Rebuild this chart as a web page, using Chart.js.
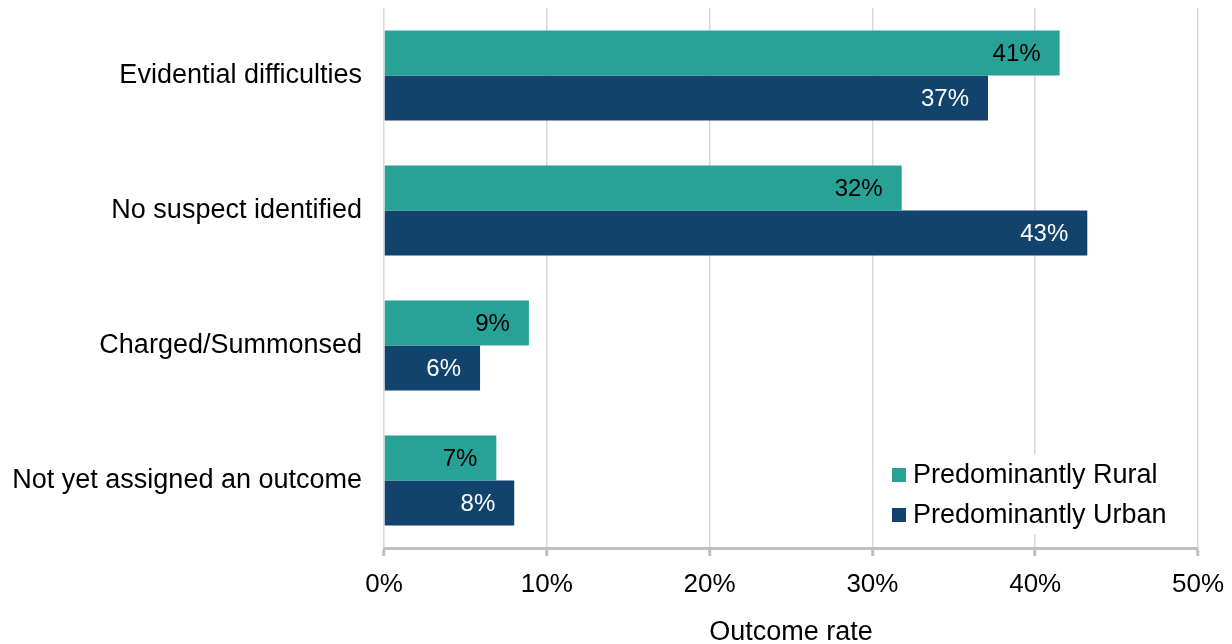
<!DOCTYPE html>
<html>
<head>
<meta charset="utf-8">
<script src="https://cdn.jsdelivr.net/npm/chart.js@4"></script>
<style>
html,body{margin:0;padding:0;background:#fff;}
#wrap{width:1232px;height:644px;position:relative;}
</style>
</head>
<body>
<div id="wrap"><canvas id="c" width="1232" height="644"></canvas></div>
<script>
const categories = ["Evidential difficulties", "No suspect identified", "Charged/Summonsed", "Not yet assigned an outcome"];
const seriesNames = ["Predominantly Rural", "Predominantly Urban"];
const ruralValues = [41.5, 31.8, 8.9, 6.9];
const urbanValues = [37.1, 43.2, 5.9, 8.0];
const ruralLabels = ["41%", "32%", "9%", "7%"];
const urbanLabels = ["37%", "43%", "6%", "8%"];
const xTicks = [0, 10, 20, 30, 40, 50];
const seriesColors = ["#28A197", "#12436D"];
const labelColors = ["#000000", "#ffffff"];

const FONT = "'Liberation Sans', Arial, sans-serif";

const barLabelPlugin = {
  id: 'barLabels',
  afterDatasetsDraw(chart) {
    const ctx = chart.ctx;
    const texts = [ruralLabels, urbanLabels];
    ctx.save();
    ctx.font = "24px " + FONT;
    ctx.textAlign = 'right';
    ctx.textBaseline = 'middle';
    chart.data.datasets.forEach((ds, i) => {
      const meta = chart.getDatasetMeta(i);
      meta.data.forEach((bar, j) => {
        ctx.fillStyle = labelColors[i];
        ctx.fillText(texts[i][j], bar.x - 19, bar.y + 1);
      });
    });
    ctx.restore();
  }
};

const legendPlugin = {
  id: 'insideLegend',
  afterDraw(chart) {
    const ctx = chart.ctx;
    const x0 = 880, y0 = 455, w = 300, h = 79;
    ctx.save();
    ctx.fillStyle = '#ffffff';
    ctx.fillRect(x0, y0, w, h);
    ctx.font = "27px " + FONT;
    ctx.textBaseline = 'middle';
    ctx.textAlign = 'left';
    const rows = [475, 515];
    seriesNames.forEach((name, i) => {
      ctx.fillStyle = seriesColors[i];
      ctx.fillRect(892, rows[i] - 7, 14, 14);
      ctx.fillStyle = '#000000';
      ctx.fillText(name, 913, rows[i] + 1);
    });
    ctx.restore();
  }
};

new Chart(document.getElementById('c'), {
  type: 'bar',
  data: {
    labels: categories,
    datasets: [
      { label: seriesNames[0], data: ruralValues, backgroundColor: seriesColors[0], barPercentage: 1.0, categoryPercentage: 0.667 },
      { label: seriesNames[1], data: urbanValues, backgroundColor: seriesColors[1], barPercentage: 1.0, categoryPercentage: 0.667 }
    ]
  },
  options: {
    indexAxis: 'y',
    responsive: false,
    animation: false,
    devicePixelRatio: 1,
    layout: { padding: { top: 8, right: 34, bottom: 0, left: 0 } },
    plugins: {
      legend: { display: false },
      tooltip: { enabled: false }
    },
    scales: {
      x: {
        min: 0, max: 50,
        afterBuildTicks(scale) { scale.ticks = xTicks.map(v => ({ value: v })); },
        afterFit(scale) { scale.height = 96; scale.paddingLeft = 0; scale.paddingRight = 0; },
        ticks: {
          callback: v => v + '%',
          color: '#000',
          font: { family: FONT, size: 26 },
          padding: 13,
          maxRotation: 0
        },
        grid: {
          color: '#d9d9d9',
          lineWidth: 1.5,
          drawTicks: true,
          tickLength: 8,
          tickColor: '#bfbfbf',
          tickWidth: 3
        },
        border: { display: true, color: '#bfbfbf', width: 3 },
        title: {
          display: true,
          text: 'Outcome rate',
          color: '#000',
          font: { family: FONT, size: 27 },
          padding: { top: 0, bottom: -5 }
        }
      },
      y: {
        afterFit(scale) { scale.width = 384; scale.paddingTop = 0; scale.paddingBottom = 0; },
        ticks: {
          color: '#000',
          font: { family: FONT, size: 27 },
          padding: 0
        },
        grid: { display: true, drawOnChartArea: false, drawTicks: true, tickLength: 22, tickColor: 'rgba(0,0,0,0)', color: 'rgba(0,0,0,0)' },
        border: { display: false }
      }
    }
  },
  plugins: [barLabelPlugin, legendPlugin]
});
</script>
</body>
</html>
